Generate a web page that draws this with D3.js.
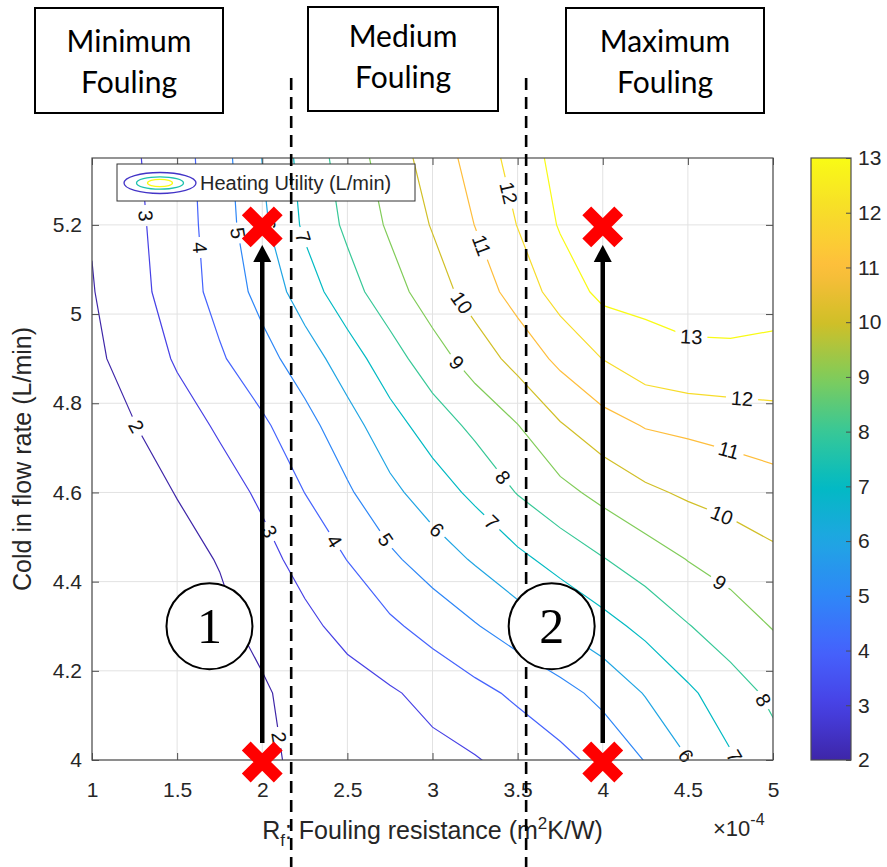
<!DOCTYPE html>
<html>
<head>
<meta charset="utf-8">
<script src="https://cdn.jsdelivr.net/npm/d3@7"></script>
<style>
  body { margin: 0; background: #fff; }
  svg { display: block; font-family: "Liberation Sans", Arial, sans-serif; }
</style>
</head>
<body>
<script>
// simulation grid: fouling resistance (x10^-4 m2K/W) and cold inlet flow (L/min)
var rfGrid = [1.00, 1.25, 1.50, 1.75, 2.00, 2.25, 2.50, 2.75, 3.00, 3.25, 3.50, 3.75, 4.00, 4.25, 4.50, 4.75, 5.00];
var flowGrid = [4.00, 4.15, 4.30, 4.45, 4.60, 4.75, 4.90, 5.05, 5.20, 5.35];

// heating utility (L/min), one row per flow rate, lowest flow first
var heatingUtility = [
  [1.08, 1.30, 1.50, 1.70, 1.90, 2.11, 2.32, 2.53, 2.73, 2.94, 3.31, 3.74, 4.29, 5.04, 5.98, 6.89, 7.65],
  [1.21, 1.41, 1.59, 1.78, 1.92, 2.25, 2.57, 2.89, 3.28, 3.72, 4.18, 4.67, 5.26, 6.06, 6.82, 7.56, 8.20],
  [1.35, 1.52, 1.69, 1.87, 2.17, 2.76, 3.31, 3.82, 4.36, 4.93, 5.50, 6.07, 6.65, 7.27, 7.95, 8.51, 9.05],
  [1.47, 1.64, 1.82, 2.03, 2.68, 3.34, 4.02, 4.81, 5.48, 6.11, 6.76, 7.37, 7.95, 8.50, 9.03, 9.40, 9.78],
  [1.57, 1.79, 2.02, 2.57, 3.17, 4.01, 4.86, 5.75, 6.50, 7.23, 8.05, 8.71, 9.29, 9.81, 10.15, 10.38, 10.61],
  [1.70, 1.98, 2.53, 3.14, 3.83, 4.66, 5.60, 6.60, 7.47, 8.24, 8.97, 9.92, 10.59, 11.06, 11.21, 11.37, 11.53],
  [1.83, 2.32, 3.12, 3.88, 4.64, 5.50, 6.52, 7.58, 8.56, 9.45, 10.35, 11.24, 12.02, 12.60, 12.85, 12.87, 12.80],
  [1.95, 2.67, 3.48, 4.33, 5.33, 6.50, 7.61, 8.57, 9.52, 10.45, 11.41, 12.43, 13.25, 13.28, 13.30, 13.30, 13.28],
  [2.06, 2.79, 3.53, 4.47, 5.79, 7.17, 8.19, 9.15, 10.07, 11.02, 12.03, 13.09, 13.25, 13.30, 13.32, 13.32, 13.30],
  [2.17, 2.89, 3.58, 4.56, 6.02, 7.35, 8.48, 9.48, 10.44, 11.38, 12.41, 13.35, 13.36, 13.37, 13.37, 13.37, 13.36]
];

var contourLevels = [2, 3, 4, 5, 6, 7, 8, 9, 10, 11, 12, 13];
var xTicks = [1, 1.5, 2, 2.5, 3, 3.5, 4, 4.5, 5];
var yTicks = [4, 4.2, 4.4, 4.6, 4.8, 5, 5.2];
var colorTicks = [2, 3, 4, 5, 6, 7, 8, 9, 10, 11, 12, 13];

// annotations
var regionNames = [["Minimum", "Fouling"], ["Medium", "Fouling"], ["Maximum", "Fouling"]];
var regionBounds = [2.17, 3.55];
var operatingPoints = [[2, 4.0], [2, 5.2], [4, 4.0], [4, 5.2]];
var scenarioRf = [2, 4];
var scenarioFlow = [4.0, 5.2];
var scenarioNames = ["1", "2"];
var scenarioBadgeRf = [1.69, 3.70];
var scenarioBadgeFlow = [4.30, 4.30];

// where clabel put the inline labels (level, approx. position)
var labelSpots = [
  [3, 1.29, 5.22], [4, 1.66, 5.15], [5, 1.83, 5.18], [6, 2.04, 5.20], [7, 2.22, 5.17],
  [2, 1.27, 4.75], [3, 2.03, 4.51], [2, 2.09, 4.05], [4, 2.42, 4.49], [5, 2.71, 4.49],
  [6, 3.01, 4.51], [7, 3.34, 4.53], [8, 3.40, 4.63], [9, 3.14, 4.89], [10, 3.15, 5.02],
  [11, 3.26, 5.15], [12, 3.43, 5.27], [13, 4.52, 4.95], [12, 4.82, 4.82], [11, 4.73, 4.68],
  [10, 4.69, 4.54], [9, 4.69, 4.40], [8, 4.92, 4.13], [6, 4.49, 4.01], [7, 4.78, 4.01]
];

// parula
var parula = ["#3e26a8", "#4741e5", "#4563fd", "#2e87f7", "#20a5e3", "#02bac3",
              "#37c897", "#81cc59", "#d1bf27", "#febe3c", "#f7dc2a", "#f9fb15"];

var W = 887, H = 867;
var x = d3.scaleLinear().domain([1, 5]).range([92, 773]);
var y = d3.scaleLinear().domain([4, 5.35]).range([760, 158]);
var cy = d3.scaleLinear().domain([2, 13]).range([760, 158]);
var color = d3.scaleSequential(d3.piecewise(d3.interpolateRgb, parula)).domain([2, 13]);

var svg = d3.select("body").append("svg").attr("width", W).attr("height", H);
svg.append("rect").attr("width", W).attr("height", H).attr("fill", "#fff");
var defs = svg.append("defs");

var px0 = x.range()[0], px1 = x.range()[1], py0 = y.range()[1], py1 = y.range()[0];
defs.append("clipPath").attr("id", "plotArea").append("rect")
  .attr("x", px0).attr("y", py0).attr("width", px1 - px0).attr("height", py1 - py0);
var mask = defs.append("mask").attr("id", "labelGaps")
  .attr("maskUnits", "userSpaceOnUse").attr("x", 0).attr("y", 0).attr("width", W).attr("height", H);
mask.append("rect").attr("width", W).attr("height", H).attr("fill", "white");

// grid
var grid = svg.append("g").attr("stroke", "#e2e2e2").attr("stroke-width", 1);
grid.selectAll("line.v").data(xTicks).enter().append("line")
  .attr("x1", function(d) { return x(d); }).attr("x2", function(d) { return x(d); })
  .attr("y1", py0).attr("y2", py1);
grid.selectAll("line.h").data(yTicks).enter().append("line")
  .attr("y1", function(d) { return y(d); }).attr("y2", function(d) { return y(d); })
  .attr("x1", px0).attr("x2", px1);

// contours
var nx = rfGrid.length, ny = flowGrid.length;
var flat = [].concat.apply([], heatingUtility);
var contours = d3.contours().size([nx, ny]).thresholds(contourLevels)(flat);
var gx = d3.scaleLinear().domain([0.5, nx - 0.5]).range([rfGrid[0], rfGrid[nx - 1]]);
var gy = d3.scaleLinear().domain([0.5, ny - 0.5]).range([flowGrid[0], flowGrid[ny - 1]]);
var proj = d3.geoTransform({ point: function(a, b) { this.stream.point(x(gx(a)), y(gy(b))); } });
var path = d3.geoPath(proj);

var lines = svg.append("g").attr("clip-path", "url(#plotArea)")
  .append("g").attr("mask", "url(#labelGaps)");
lines.selectAll("path").data(contours).enter().append("path")
  .attr("d", path)
  .attr("fill", "none")
  .attr("stroke", function(d) { return color(d.value); })
  .attr("stroke-width", 1.2);

function segmentsFor(level) {
  var c = contours.filter(function(d) { return d.value === level; })[0];
  var segs = [];
  function edge(p) { return p[0] <= 0 || p[0] >= nx || p[1] <= 0 || p[1] >= ny; }
  c.coordinates.forEach(function(poly) {
    poly.forEach(function(ring) {
      for (var k = 1; k < ring.length; k++) {
        var a = ring[k - 1], b = ring[k];
        if (edge(a) || edge(b)) continue;
        segs.push([x(gx(a[0])), y(gy(a[1])), x(gx(b[0])), y(gy(b[1]))]);
      }
    });
  });
  return segs;
}

// inline labels
var labelLayer = svg.append("g").attr("font-size", 20).attr("fill", "#111");
labelSpots.forEach(function(s) {
  var tx = x(s[1]), ty = y(s[2]), best = null;
  segmentsFor(s[0]).forEach(function(g) {
    var dx = g[2] - g[0], dy = g[3] - g[1], L = dx * dx + dy * dy;
    var t = L ? ((tx - g[0]) * dx + (ty - g[1]) * dy) / L : 0;
    t = Math.max(0, Math.min(1, t));
    var qx = g[0] + t * dx, qy = g[1] + t * dy;
    var d = (qx - tx) * (qx - tx) + (qy - ty) * (qy - ty);
    if (!best || d < best.d) best = { d: d, x: qx, y: qy, a: Math.atan2(dy, dx) * 180 / Math.PI };
  });
  if (!best) return;
  var ang = best.a;
  if (ang > 90) ang -= 180;
  if (ang <= -90) ang += 180;
  var tr = "translate(" + best.x + "," + best.y + ") rotate(" + ang + ")";
  var t = labelLayer.append("text").attr("transform", tr)
    .attr("text-anchor", "middle").attr("dy", "0.36em").text(s[0]);
  var w = t.node().getComputedTextLength();
  mask.append("rect").attr("transform", tr)
    .attr("x", -w / 2 - 5).attr("y", -10).attr("width", w + 10).attr("height", 20).attr("fill", "black");
});

// axes
var axisColor = "#4d4d4d";
function styleAxis(g) {
  g.select(".domain").remove();
  g.selectAll(".tick line").attr("stroke", axisColor);
  g.selectAll(".tick text").attr("fill", "#262626").attr("font-size", 21)
    .attr("font-family", "Liberation Sans, Arial, sans-serif");
}
svg.append("g").attr("transform", "translate(0," + py1 + ")")
  .call(d3.axisBottom(x).tickValues(xTicks).tickSize(-7).tickPadding(22).tickFormat(d3.format("~g")))
  .call(styleAxis);
svg.append("g").attr("transform", "translate(0," + py0 + ")")
  .call(d3.axisTop(x).tickValues(xTicks).tickSize(-7).tickFormat(""))
  .call(styleAxis);
svg.append("g").attr("transform", "translate(" + px0 + ",0)")
  .call(d3.axisLeft(y).tickValues(yTicks).tickSize(-7).tickPadding(10).tickFormat(d3.format("~g")))
  .call(styleAxis);
svg.append("g").attr("transform", "translate(" + px1 + ",0)")
  .call(d3.axisRight(y).tickValues(yTicks).tickSize(-7).tickFormat(""))
  .call(styleAxis);
svg.append("rect").attr("x", px0).attr("y", py0).attr("width", px1 - px0).attr("height", py1 - py0)
  .attr("fill", "none").attr("stroke", axisColor).attr("stroke-width", 1.2);

// axis titles
var xl = svg.append("text").attr("x", (px0 + px1) / 2).attr("y", 839)
  .attr("text-anchor", "middle").attr("font-size", 25).attr("fill", "#262626");
xl.append("tspan").text("R");
xl.append("tspan").attr("font-size", 17).attr("dy", 7).text("f");
xl.append("tspan").attr("dy", -7).text(": Fouling resistance (m");
xl.append("tspan").attr("font-size", 17).attr("dy", -10).text("2");
xl.append("tspan").attr("dy", 10).text("K/W)");

var ex = svg.append("text").attr("x", 713).attr("y", 836).attr("font-size", 22).attr("fill", "#262626");
ex.append("tspan").text("\u00d710");
ex.append("tspan").attr("font-size", 16).attr("dy", -11).text("-4");

svg.append("text").attr("transform", "translate(31," + (py0 + py1) / 2 + ") rotate(-90)")
  .attr("text-anchor", "middle").attr("font-size", 25).attr("fill", "#262626")
  .text("Cold in flow rate (L/min)");

// colorbar
var grad = defs.append("linearGradient").attr("id", "parulaGrad")
  .attr("x1", 0).attr("y1", 1).attr("x2", 0).attr("y2", 0);
d3.range(0, 1.0001, 0.025).forEach(function(t) {
  grad.append("stop").attr("offset", t).attr("stop-color", color(2 + 11 * t));
});
var cbx = 811, cbw = 40;
svg.append("rect").attr("x", cbx).attr("y", cy.range()[1]).attr("width", cbw)
  .attr("height", cy.range()[0] - cy.range()[1]).attr("fill", "url(#parulaGrad)")
  .attr("stroke", axisColor).attr("stroke-width", 1.2);
svg.append("g").attr("transform", "translate(" + (cbx + cbw) + ",0)")
  .call(d3.axisRight(cy).tickValues(colorTicks).tickSize(-5).tickPadding(7))
  .call(styleAxis);

// legend
var lg = svg.append("g");
lg.append("rect").attr("x", 117).attr("y", 164).attr("width", 298).attr("height", 37)
  .attr("fill", "#fff").attr("stroke", "#333").attr("stroke-width", 1);
[[36, 10.5, 2.5], [23.5, 6.2, 7.5], [12.5, 3.6, 13]].forEach(function(e) {
  lg.append("ellipse").attr("cx", 160).attr("cy", 183).attr("rx", e[0]).attr("ry", e[1])
    .attr("fill", "none").attr("stroke", color(e[2])).attr("stroke-width", 1.3);
});
lg.append("text").attr("x", 200).attr("y", 190).attr("font-size", 20).attr("fill", "#262626")
  .text("Heating Utility (L/min)");

// region boundaries
svg.selectAll("line.bound").data(regionBounds).enter().append("line")
  .attr("x1", function(d) { return x(d); }).attr("x2", function(d) { return x(d); })
  .attr("y1", 78).attr("y2", H)
  .attr("stroke", "#000").attr("stroke-width", 2.6).attr("stroke-dasharray", "12,7");

// scenario badges
scenarioNames.forEach(function(n, i) {
  var bx = x(scenarioBadgeRf[i]), by = y(scenarioBadgeFlow[i]);
  svg.append("circle").attr("cx", bx).attr("cy", by).attr("r", 43)
    .attr("fill", "#fff").attr("stroke", "#000").attr("stroke-width", 2);
  svg.append("text").attr("x", bx).attr("y", by + 17).attr("text-anchor", "middle")
    .attr("font-family", "Liberation Serif, Times New Roman, serif").attr("font-size", 50)
    .text(n);
});

// arrows from low to high flow
scenarioRf.forEach(function(rf) {
  var ax = x(rf), yA = y(scenarioFlow[0]) - 17, yB = y(scenarioFlow[1]) + 20;
  svg.append("line").attr("x1", ax).attr("x2", ax).attr("y1", yA).attr("y2", yB + 12)
    .attr("stroke", "#000").attr("stroke-width", 4.5);
  svg.append("path").attr("d", "M" + ax + "," + yB + "l-9,17h18z").attr("fill", "#000");
});

// operating points
svg.selectAll("path.pt").data(operatingPoints).enter().append("path")
  .attr("transform", function(d) { return "translate(" + x(d[0]) + "," + (y(d[1]) + 2) + ")"; })
  .attr("d", "M-16,-16L16,16M16,-16L-16,16")
  .attr("stroke", "#ff0000").attr("stroke-width", 12.5).attr("fill", "none");

// region boxes
var boxes = [[35, 8, 188, 105, 52], [308, 7, 190, 104, 47], [566, 8, 198, 105, 52]];
regionNames.forEach(function(nm, i) {
  var b = boxes[i];
  svg.append("rect").attr("x", b[0]).attr("y", b[1]).attr("width", b[2]).attr("height", b[3])
    .attr("fill", "#fff").attr("stroke", "#000").attr("stroke-width", 2);
  var t = svg.append("text").attr("text-anchor", "middle").attr("font-family", "Lato, Open Sans, sans-serif")
    .attr("font-size", 30).attr("fill", "#000");
  t.append("tspan").attr("x", b[0] + b[2] / 2).attr("y", b[4]).text(nm[0]);
  t.append("tspan").attr("x", b[0] + b[2] / 2).attr("y", b[4] + 41).text(nm[1]);
});
</script>
</body>
</html>
